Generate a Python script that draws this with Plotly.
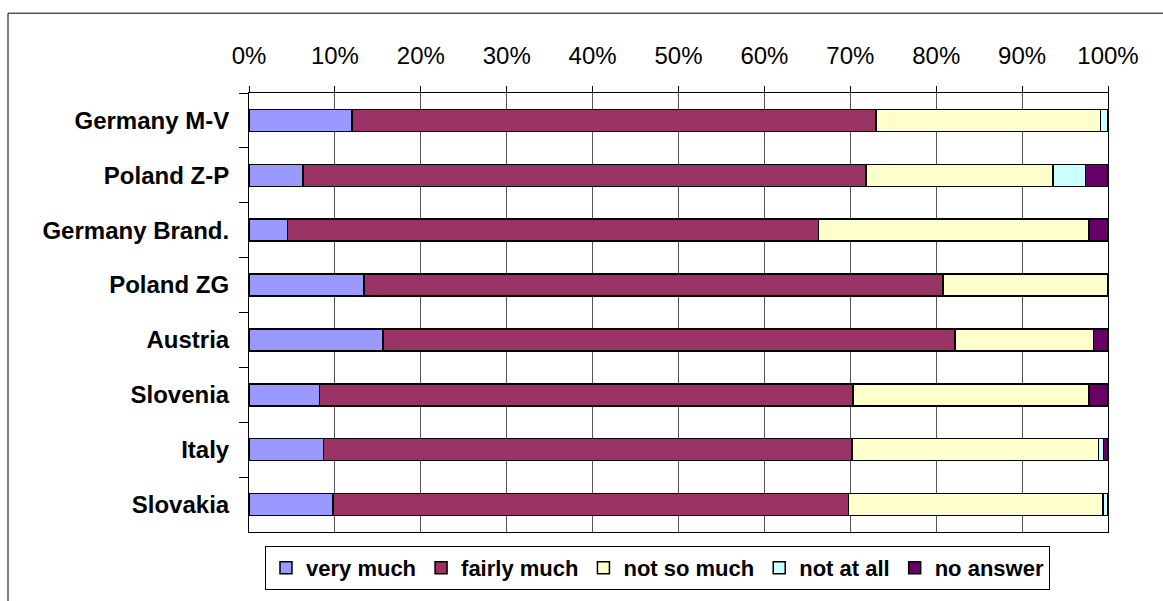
import plotly.graph_objects as go

categories = ["Germany M-V", "Poland Z-P", "Germany Brand.", "Poland ZG",
              "Austria", "Slovenia", "Italy", "Slovakia"]
series_names = ["very much", "fairly much", "not so much", "not at all", "no answer"]
very_much    = [12.0, 6.3, 4.5, 13.4, 15.6, 8.2, 8.7, 9.8]
fairly_much  = [61.0, 65.5, 61.8, 67.4, 66.6, 62.1, 61.5, 60.0]
not_so_much  = [26.1, 21.8, 31.5, 19.2, 16.1, 27.5, 28.7, 29.6]
not_at_all   = [0.9, 3.8, 0.0, 0.0, 0.0, 0.0, 0.6, 0.6]
no_answer    = [0.0, 2.6, 2.2, 0.0, 1.7, 2.2, 0.5, 0.0]
colors = ["#9999FF", "#993366", "#FFFFCC", "#CCFFFF", "#660066"]
x_ticks = list(range(0, 101, 10))

W, H = 1163, 601
L, R, T, B = 249, 55, 93, 68
pw, ph = W - L - R, H - T - B

fig = go.Figure()
for name, vals, col in zip(series_names,
                           [very_much, fairly_much, not_so_much, not_at_all, no_answer],
                           colors):
    fig.add_trace(go.Bar(
        y=categories, x=vals, name=name, orientation="h",
        marker=dict(color=col, line=dict(color="black", width=1.5)),
        width=0.4,
    ))

fig.update_layout(
    width=W, height=H,
    barmode="stack",
    paper_bgcolor="white", plot_bgcolor="white",
    margin=dict(l=L, r=R, t=T, b=B),
    font=dict(family="Liberation Sans, Arial, sans-serif", color="black"),
    showlegend=True,
    legend=dict(
        orientation="h",
        x=(265 - L) / pw, xanchor="left",
        y=-(546 - (T + ph)) / ph, yanchor="top",
        bordercolor="black", borderwidth=1,
        font=dict(size=22, family="Liberation Sans, Arial, sans-serif", weight="bold"),
        traceorder="normal",
        itemwidth=30,
        tracegroupgap=0,
    ),
    xaxis=dict(
        side="top", range=[0, 100], tickvals=x_ticks,
        ticktext=[f"{v}%" for v in x_ticks],
        showgrid=True, gridcolor="#555555", gridwidth=1,
        showline=True, linecolor="black", linewidth=1, mirror=True,
        ticks="outside", ticklen=6, tickcolor="black",
        tickfont=dict(size=24),
        ticklabelstandoff=12,
        zeroline=False, fixedrange=True,
    ),
    yaxis=dict(
        autorange="reversed",
        categoryorder="array", categoryarray=categories,
        showline=True, linecolor="black", linewidth=1, mirror=True,
        ticks="outside", ticklen=9, tickcolor="black", tickson="boundaries",
        tickfont=dict(size=24, weight="bold"),
        ticklabelstandoff=14,
        showgrid=False, fixedrange=True,
    ),
    shapes=[dict(
        type="rect", xref="paper", yref="paper",
        x0=(8 - L) / pw, x1=(1175 - L) / pw,
        y0=-(615 - (T + ph)) / ph, y1=((T + ph) - 13) / ph,
        line=dict(color="black", width=1), fillcolor="rgba(0,0,0,0)", layer="below",
    )],
)

fig.write_html("out.html")
